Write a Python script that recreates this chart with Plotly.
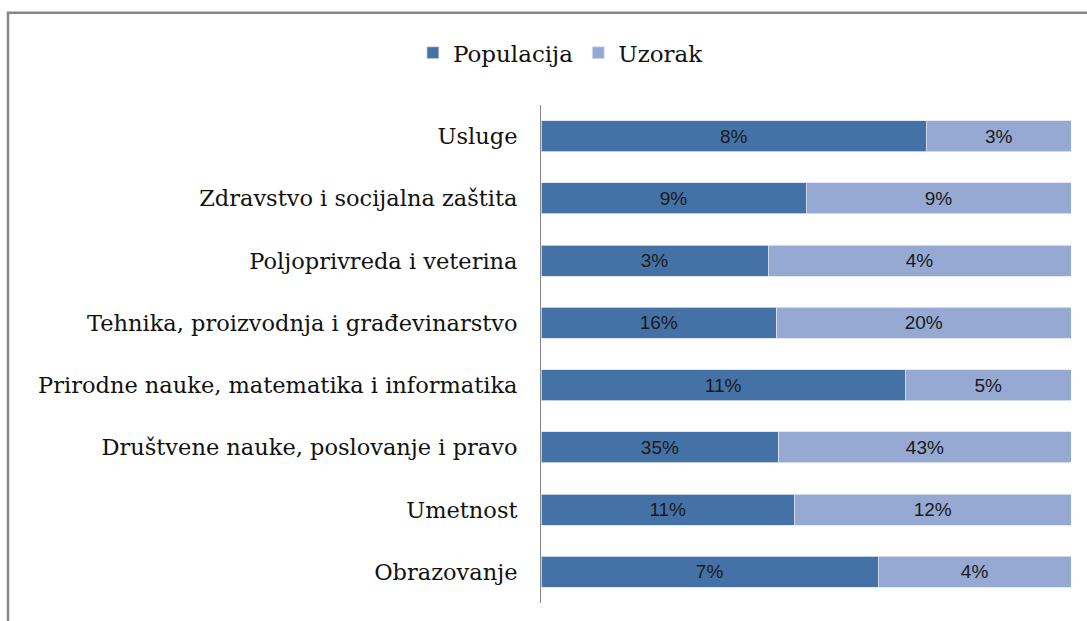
import plotly.graph_objects as go

categories = ["Usluge", "Zdravstvo i socijalna zaštita", "Poljoprivreda i veterina",
              "Tehnika, proizvodnja i građevinarstvo", "Prirodne nauke, matematika i informatika",
              "Društvene nauke, poslovanje i pravo", "Umetnost", "Obrazovanje"]
populacija = [8, 9, 3, 16, 11, 35, 11, 7]
uzorak = [3, 9, 4, 20, 5, 43, 12, 4]

fig = go.Figure()
fig.add_trace(go.Bar(
    y=categories, x=populacija, name="Populacija", orientation="h",
    marker=dict(color="#4472A7", line=dict(color="#DCE3F0", width=0.8)),
    text=[f"{v}%" for v in populacija], textposition="inside", insidetextanchor="middle",
    textfont=dict(family="Liberation Sans", size=19, color="#1a1a1a"),
    hoverinfo="skip",
))
fig.add_trace(go.Bar(
    y=categories, x=uzorak, name="Uzorak", orientation="h",
    marker=dict(color="#95A9D2", line=dict(color="#DCE3F0", width=0.8)),
    text=[f"{v}%" for v in uzorak], textposition="inside", insidetextanchor="middle",
    textfont=dict(family="Liberation Sans", size=19, color="#1a1a1a"),
    hoverinfo="skip",
))

fig.update_layout(
    barmode="stack", barnorm="percent", bargap=0.5,
    width=1087, height=621,
    margin=dict(l=541, r=16, t=105, b=18),
    paper_bgcolor="white", plot_bgcolor="white",
    font=dict(family="DejaVu Serif", size=22.5, color="#111"),
    legend=dict(orientation="h", xref="container", yref="container",
                x=0.516, y=0.915, xanchor="center", yanchor="middle",
                font=dict(family="DejaVu Serif", size=23, color="#111"),
                itemwidth=30, traceorder="normal"),
    uniformtext=dict(mode="show", minsize=19),
)
fig.update_xaxes(range=[0, 100], showgrid=False, showticklabels=False, zeroline=False,
                 showline=False, fixedrange=True)
fig.update_yaxes(categoryorder="array", categoryarray=categories[::-1],
                 showline=True, linecolor="#888", linewidth=1, ticks="",
                 showgrid=False, ticklabelstandoff=18, fixedrange=True,
                 tickfont=dict(family="DejaVu Serif", size=22.5, color="#111"))
fig.add_shape(type="rect", xref="paper", yref="paper",
              x0=-1.0057, x1=1.1, y0=-0.5, y1=1.185,
              line=dict(color="#888", width=2.5), fillcolor="rgba(0,0,0,0)")
fig.write_html("out.html", config={"displayModeBar": False},
               post_script="document.body.style.margin='0';")
